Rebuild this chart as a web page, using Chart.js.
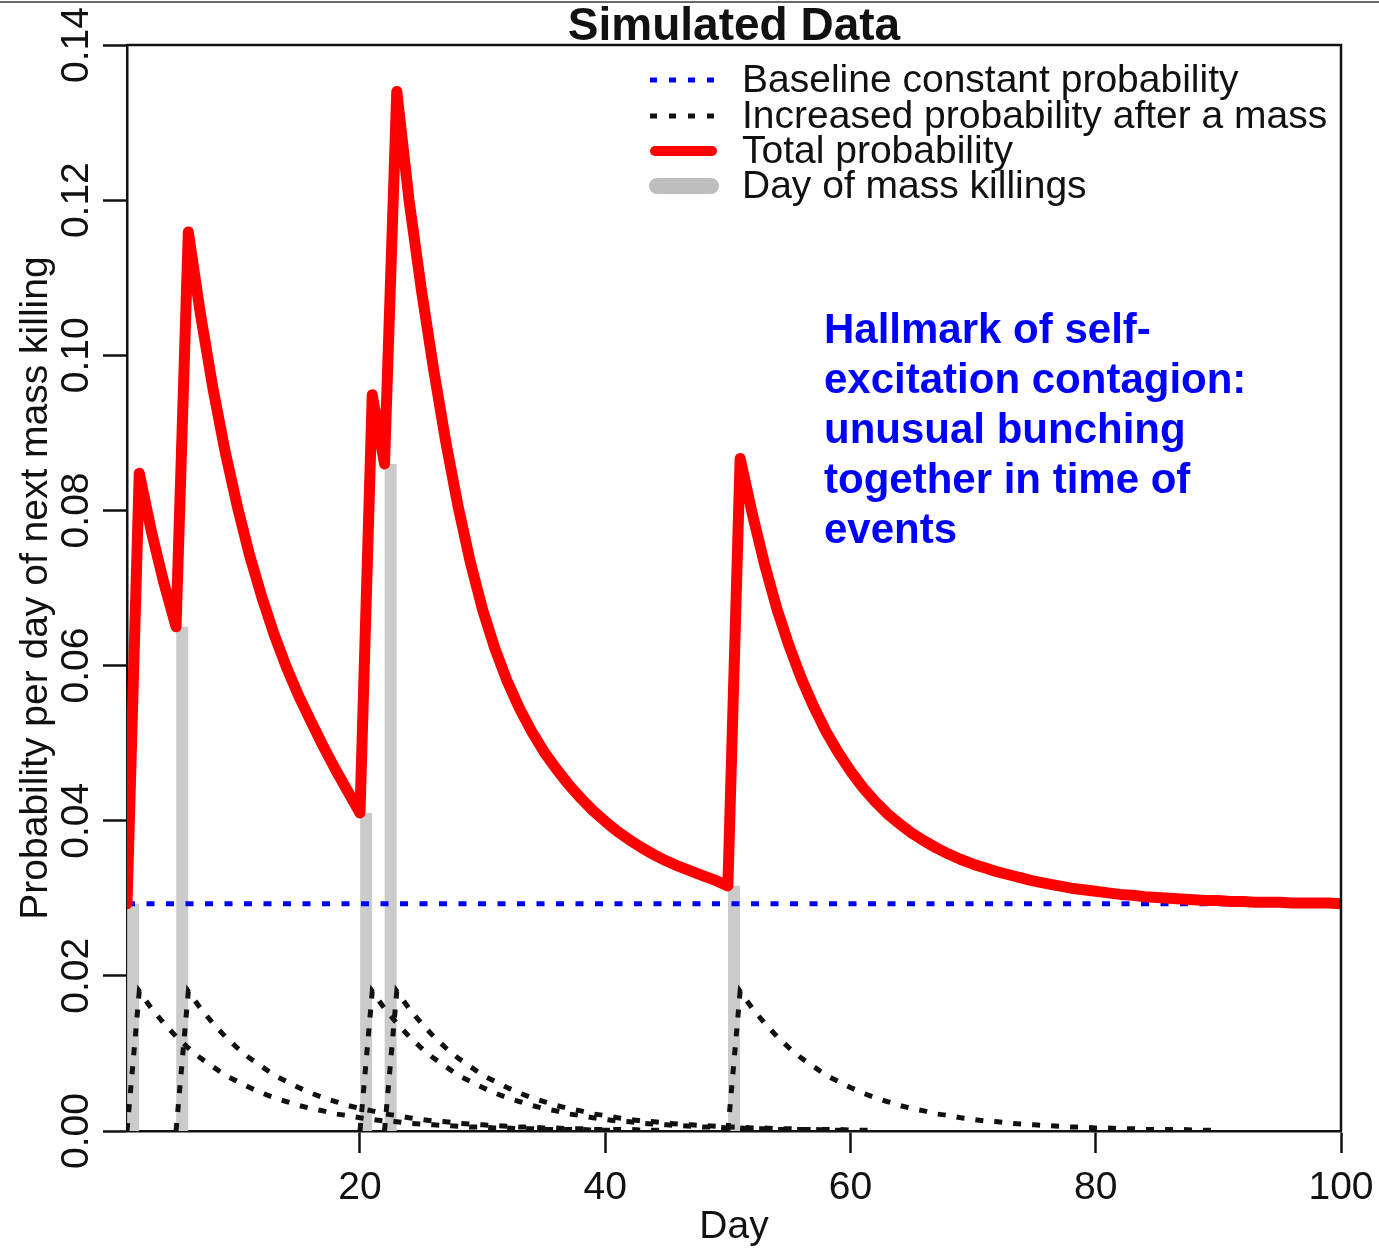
<!DOCTYPE html>
<html>
<head>
<meta charset="utf-8">
<title>Simulated Data</title>
<script src="https://cdn.jsdelivr.net/npm/chart.js@4.4.0/dist/chart.umd.min.js"></script>
<style>
  html, body { margin: 0; padding: 0; background: #fff; }
  #wrap { width: 1379px; height: 1249px; }
</style>
</head>
<body>
<div id="wrap"><canvas id="simChart" width="1379" height="1249"></canvas></div>
<script>
// total probability per day, days 1..100
const totalProbability = [
  0.0293, 0.0848, 0.0772, 0.0707, 0.0650, 0.1159, 0.1052, 0.0958, 0.0876, 0.0805,
  0.0742, 0.0688, 0.0640, 0.0598, 0.0561, 0.0528, 0.0496, 0.0466, 0.0438, 0.0410,
  0.0949, 0.0860, 0.1340, 0.1200, 0.1085, 0.0982, 0.0888, 0.0805, 0.0733, 0.0672,
  0.0622, 0.0580, 0.0545, 0.0515, 0.0489, 0.0467, 0.0447, 0.0429, 0.0413, 0.0399,
  0.0386, 0.0375, 0.0365, 0.0356, 0.0348, 0.0341, 0.0335, 0.0329, 0.0323, 0.0316,
  0.0867, 0.0795, 0.0730, 0.0673, 0.0625, 0.0583, 0.0547, 0.0515, 0.0488, 0.0464,
  0.0443, 0.0425, 0.0409, 0.0396, 0.0384, 0.0374, 0.0365, 0.0357, 0.0350, 0.0344,
  0.0339, 0.0334, 0.0330, 0.0326, 0.0322, 0.0319, 0.0316, 0.0313, 0.0311, 0.0309,
  0.0307, 0.0305, 0.0304, 0.0302, 0.0301, 0.0300, 0.0299, 0.0298, 0.0297, 0.0297,
  0.0296, 0.0296, 0.0295, 0.0295, 0.0295, 0.0294, 0.0294, 0.0294, 0.0294, 0.0293
];
const baselineProbability = 0.0293;

// the dotted black curves all have the same shape: extra probability on day 1, 2, 3... after a killing
const increaseAfterKilling = [
  0.0180, 0.0158, 0.0139, 0.0122, 0.0107, 0.0094, 0.0083, 0.0072, 0.0064, 0.0056,
  0.0049, 0.0043, 0.0038, 0.0033, 0.0029, 0.0026, 0.0022, 0.0020, 0.0017, 0.0015,
  0.0013, 0.0012, 0.0010, 0.0009, 0.0008, 0.0007, 0.0006, 0.0005, 0.0005, 0.0004,
  0.0004, 0.0003, 0.0003, 0.0002, 0.0002, 0.0002, 0.0002, 0.0001, 0.0001, 0.0001
];
const killingDays = [1, 5, 20, 22, 50];
const killingBarDays = [1.5, 5.5, 20.5, 22.5, 50.5];
const killingBarTops = [0.0293, 0.0650, 0.0410, 0.0860, 0.0316];

const xTickValues = [20, 40, 60, 80, 100];
const yTickValues = [0, 0.02, 0.04, 0.06, 0.08, 0.10, 0.12, 0.14];
const yTickLabels = ["0.00", "0.02", "0.04", "0.06", "0.08", "0.10", "0.12", "0.14"];

const legendLabels = [
  "Baseline constant probability",
  "Increased probability after a mass",
  "Total probability",
  "Day of mass killings"
];
const noteLines = [
  "Hallmark of self-",
  "excitation contagion:",
  "unusual bunching",
  "together in time of",
  "events"
];

const FONT = "'Liberation Sans', Arial, Helvetica, sans-serif";
const INK = "#111";

const days = totalProbability.map((_, i) => i + 1);

const datasets = [];
datasets.push({
  label: "Total probability",
  data: days.map((d, i) => ({ x: d, y: totalProbability[i] })),
  borderColor: "#ff0000",
  borderWidth: 11,
  borderJoinStyle: "round",
  borderCapStyle: "round",
  clip: 0
});
datasets.push({
  label: "Baseline constant probability",
  data: [{ x: 1, y: baselineProbability }, { x: 100, y: baselineProbability }],
  borderColor: "#0000ff",
  borderWidth: 5,
  borderDash: [8, 11.5]
});
killingDays.forEach((day) => {
  const pts = [{ x: day, y: 0 }];
  increaseAfterKilling.forEach((v, k) => {
    if (day + 1 + k <= 100) pts.push({ x: day + 1 + k, y: v });
  });
  datasets.push({
    label: "Increased probability after a mass",
    data: pts,
    borderColor: INK,
    borderWidth: 5,
    borderDash: [8, 11]
  });
});
killingBarDays.forEach((day, i) => {
  datasets.push({
    label: "Day of mass killings",
    data: [{ x: day, y: 0 }, { x: day, y: killingBarTops[i] }],
    borderColor: "#cbcbcb",
    borderWidth: 12,
    borderCapStyle: "butt"
  });
});

const rPlotExtras = {
  id: "rPlotExtras",
  beforeDraw(chart) {
    const ctx = chart.ctx;
    ctx.save();
    ctx.fillStyle = "#fff";
    ctx.fillRect(0, 0, chart.width, chart.height);
    ctx.fillStyle = "#6a6a6a";
    ctx.fillRect(0, 1, chart.width, 2);
    ctx.restore();
  },
  afterDraw(chart) {
    const ctx = chart.ctx;
    const area = chart.chartArea;
    const xs = chart.scales.x;
    const ys = chart.scales.y;
    ctx.save();

    // rest of the box
    ctx.strokeStyle = INK;
    ctx.lineWidth = 2.5;
    ctx.beginPath();
    ctx.moveTo(area.left, area.top);
    ctx.lineTo(area.right, area.top);
    ctx.lineTo(area.right, area.bottom);
    ctx.stroke();

    ctx.fillStyle = INK;
    ctx.font = "39px " + FONT;
    ctx.textAlign = "center";
    ctx.textBaseline = "alphabetic";
    xTickValues.forEach((v) => ctx.fillText(String(v), xs.getPixelForValue(v), area.bottom + 68));
    ctx.fillText("Day", (area.left + area.right) / 2, area.bottom + 107);

    yTickValues.forEach((v, i) => {
      ctx.save();
      ctx.translate(area.left - 39, ys.getPixelForValue(v));
      ctx.rotate(-Math.PI / 2);
      ctx.fillText(yTickLabels[i], 0, 0);
      ctx.restore();
    });
    ctx.save();
    ctx.translate(area.left - 80, (area.top + area.bottom) / 2);
    ctx.rotate(-Math.PI / 2);
    ctx.fillText("Probability per day of next mass killing", 0, 0);
    ctx.restore();

    ctx.font = "bold 46px " + FONT;
    ctx.fillText("Simulated Data", (area.left + area.right) / 2, area.top - 5);

    // legend
    const rows = [80, 116, 151, 186];
    ctx.lineCap = "butt";
    ctx.strokeStyle = "#0000ff";
    ctx.lineWidth = 5;
    ctx.setLineDash([7, 12]);
    ctx.beginPath(); ctx.moveTo(650, rows[0]); ctx.lineTo(716, rows[0]); ctx.stroke();
    ctx.strokeStyle = INK;
    ctx.lineWidth = 5;
    ctx.beginPath(); ctx.moveTo(650, rows[1]); ctx.lineTo(716, rows[1]); ctx.stroke();
    ctx.setLineDash([]);
    ctx.lineCap = "round";
    ctx.strokeStyle = "#ff0000";
    ctx.lineWidth = 10;
    ctx.beginPath(); ctx.moveTo(655, rows[2]); ctx.lineTo(712, rows[2]); ctx.stroke();
    ctx.strokeStyle = "#bebebe";
    ctx.lineWidth = 16;
    ctx.beginPath(); ctx.moveTo(657, rows[3]); ctx.lineTo(711, rows[3]); ctx.stroke();

    ctx.fillStyle = INK;
    ctx.font = "39px " + FONT;
    ctx.textAlign = "left";
    ctx.textBaseline = "middle";
    legendLabels.forEach((t, i) => ctx.fillText(t, 742, rows[i] + 1));

    // annotation
    ctx.fillStyle = "#0000ff";
    ctx.font = "bold 42px " + FONT;
    ctx.textBaseline = "alphabetic";
    noteLines.forEach((t, i) => ctx.fillText(t, 824, 343 + i * 50));

    ctx.restore();
  }
};

new Chart(document.getElementById("simChart"), {
  type: "line",
  data: { datasets },
  options: {
    responsive: false,
    animation: false,
    devicePixelRatio: 1,
    layout: { padding: { left: 103, right: 38, top: 45, bottom: 96 } },
    elements: { point: { radius: 0 }, line: { tension: 0, fill: false } },
    plugins: { legend: { display: false }, tooltip: { enabled: false } },
    scales: {
      x: {
        type: "linear",
        min: 1,
        max: 100,
        afterBuildTicks: (scale) => { scale.ticks = xTickValues.map((v) => ({ value: v })); },
        ticks: { display: false },
        grid: { drawOnChartArea: false, drawTicks: true, tickLength: 22, tickWidth: 2.5, tickColor: INK },
        border: { display: true, color: INK, width: 2.5 }
      },
      y: {
        type: "linear",
        min: 0,
        max: 0.14,
        afterBuildTicks: (scale) => { scale.ticks = yTickValues.map((v) => ({ value: v })); },
        ticks: { display: false },
        grid: { drawOnChartArea: false, drawTicks: true, tickLength: 24, tickWidth: 2.5, tickColor: INK },
        border: { display: true, color: INK, width: 2.5 }
      }
    }
  },
  plugins: [rPlotExtras]
});
</script>
</body>
</html>
